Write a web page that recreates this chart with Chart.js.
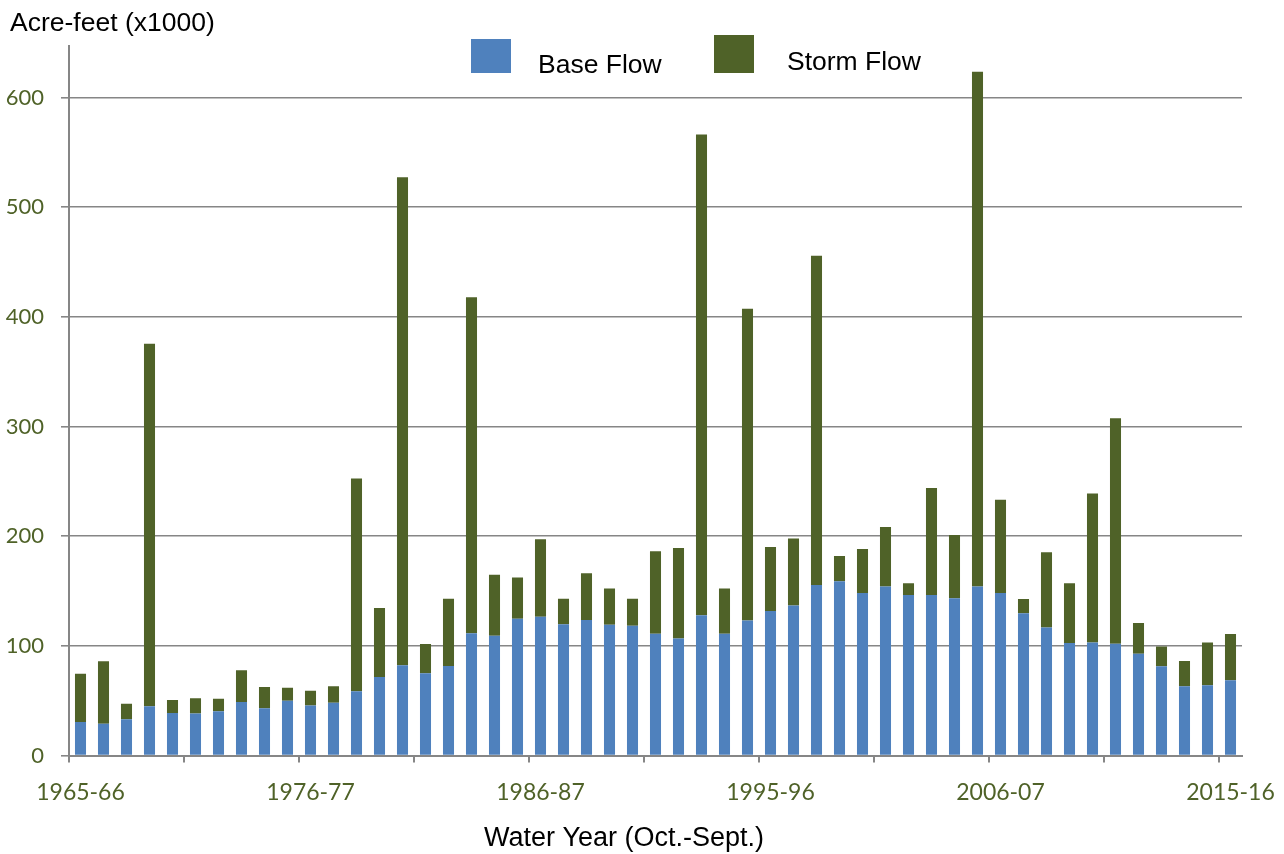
<!DOCTYPE html>
<html>
<head>
<meta charset="utf-8">
<script src="https://cdn.jsdelivr.net/npm/chart.js@4/dist/chart.umd.min.js"></script>
<style>
  html, body { margin: 0; padding: 0; background: #ffffff; }
  #wrap { width: 1284px; height: 854px; position: relative; }
</style>
</head>
<body>
<div id="wrap"><canvas id="c" width="1284" height="854"></canvas></div>
<script>
// Water years (Oct.-Sept.)
const categories = [
  '1965-66','1966-67','1967-68','1968-69','1969-70','1970-71','1971-72','1972-73','1973-74','1974-75',
  '1975-76','1976-77','1977-78','1978-79','1979-80','1980-81','1981-82','1982-83','1983-84','1984-85',
  '1985-86','1986-87','1987-88','1988-89','1989-90','1990-91','1991-92','1992-93','1993-94','1994-95',
  '1995-96','1996-97','1997-98','1998-99','1999-00','2000-01','2001-02','2002-03','2003-04','2004-05',
  '2005-06','2006-07','2007-08','2008-09','2009-10','2010-11','2011-12','2012-13','2013-14','2014-15',
  '2015-16'
];

// Base flow (acre-feet x1000)
const baseFlow = [
  30.5, 29.0, 33.0, 44.8, 38.7, 38.4, 40.3, 48.8, 43.0, 50.0,
  45.7, 48.1, 58.5, 71.6, 82.2, 74.9, 81.6, 111.4, 109.1, 124.7,
  126.6, 119.6, 123.5, 119.2, 118.4, 111.0, 106.7, 127.8, 111.0, 123.1,
  131.7, 136.7, 155.4, 158.8, 148.1, 154.0, 146.4, 146.4, 143.4, 154.0,
  148.1, 129.8, 116.7, 102.7, 103.1, 101.8, 92.9, 81.5, 63.2, 64.1,
  68.7
];

// Storm flow (acre-feet x1000), stacked on top of base flow
const stormFlow = [
  44.1, 56.9, 14.2, 330.6, 11.9, 13.7, 11.5, 28.9, 19.4, 11.8,
  13.4, 15.0, 194.2, 62.9, 445.1, 26.7, 61.4, 306.4, 55.7, 37.7,
  70.5, 23.4, 42.8, 33.1, 24.6, 75.2, 82.6, 438.5, 41.3, 284.4,
  58.4, 61.2, 300.4, 23.2, 40.3, 54.3, 10.6, 97.6, 57.7, 469.5,
  85.2, 12.8, 68.7, 54.3, 135.8, 205.8, 28.0, 17.8, 22.9, 39.0,
  42.0
];

// Tick labels as shown on the x axis (one every 10 bars)
const xTickLabels = ['1965-66', '1976-77', '1986-87', '1995-96', '2006-07', '2015-16'];
const xLabelEvery = 10;
const xTickMarkEvery = 5;
const yTickValues = [0, 100, 200, 300, 400, 500, 600];

const seriesNames = ['Base Flow', 'Storm Flow'];
const colors = { base: '#4f81bd', storm: '#4f6228', axis: '#868686', tick: '#4f6228' };

const overlayPlugin = {
  id: 'overlay',
  afterDraw(chart) {
    const ctx = chart.ctx;
    ctx.save();
    ctx.fillStyle = '#000000';
    ctx.textBaseline = 'alphabetic';
    ctx.font = '26.5px "Liberation Sans", Arial, sans-serif';
    ctx.textAlign = 'left';
    ctx.fillText('Acre-feet (x1000)', 10, 31);

    // legend
    ctx.fillStyle = colors.base;
    ctx.fillRect(471, 39, 40, 34);
    ctx.fillStyle = colors.storm;
    ctx.fillRect(714, 35, 40, 38);
    ctx.fillStyle = '#000000';
    ctx.fillText(seriesNames[0], 538, 73);
    ctx.fillText(seriesNames[1], 787, 70);

    // x axis title
    ctx.textAlign = 'center';
    ctx.font = '27px "Liberation Sans", Arial, sans-serif';
    ctx.fillText('Water Year (Oct.-Sept.)', 624, 846);
    ctx.restore();
  }
};

new Chart(document.getElementById('c'), {
  type: 'bar',
  data: {
    labels: categories,
    datasets: [
      { label: seriesNames[0], data: baseFlow, backgroundColor: colors.base,
        categoryPercentage: 1.0, barPercentage: 0.48, borderWidth: 0 },
      { label: seriesNames[1], data: stormFlow, backgroundColor: colors.storm,
        categoryPercentage: 1.0, barPercentage: 0.48, borderWidth: 0 }
    ]
  },
  options: {
    responsive: false,
    animation: false,
    layout: { padding: { left: 0, right: 42, top: 46, bottom: 0 } },
    plugins: {
      legend: { display: false },
      tooltip: { enabled: false },
      title: { display: false }
    },
    scales: {
      x: {
        stacked: true,
        offset: true,
        grid: {
          offset: true,
          drawOnChartArea: false,
          drawTicks: true,
          tickLength: 7,
          lineWidth: 2,
          color: (c) => (c.index % xTickMarkEvery === 0 ? colors.axis : 'rgba(0,0,0,0)')
        },
        border: { display: true, color: colors.axis, width: 2 },
        ticks: {
          autoSkip: false,
          maxRotation: 0,
          minRotation: 0,
          padding: 16,
          color: colors.tick,
          font: { family: 'Lato, "Open Sans", sans-serif', size: 23 },
          callback: (v, i) => (i % xLabelEvery === 0 ? xTickLabels[i / xLabelEvery] : '')
        },
        afterFit: (s) => { s.height = 98.5; s.paddingLeft = 0; s.paddingRight = 0; }
      },
      y: {
        stacked: true,
        min: 0,
        max: 647,
        afterBuildTicks: (s) => { s.ticks = yTickValues.map(v => ({ value: v })); },
        grid: {
          color: colors.axis,
          lineWidth: 1.6,
          drawTicks: true,
          tickLength: 8
        },
        border: { display: true, color: colors.axis, width: 2 },
        ticks: {
          padding: 17,
          color: colors.tick,
          font: { family: 'Lato, "Open Sans", sans-serif', size: 22 }
        },
        afterFit: (s) => { s.width = 69; s.paddingTop = 0; s.paddingBottom = 0; }
      }
    }
  },
  plugins: [overlayPlugin]
});
</script>
</body>
</html>
